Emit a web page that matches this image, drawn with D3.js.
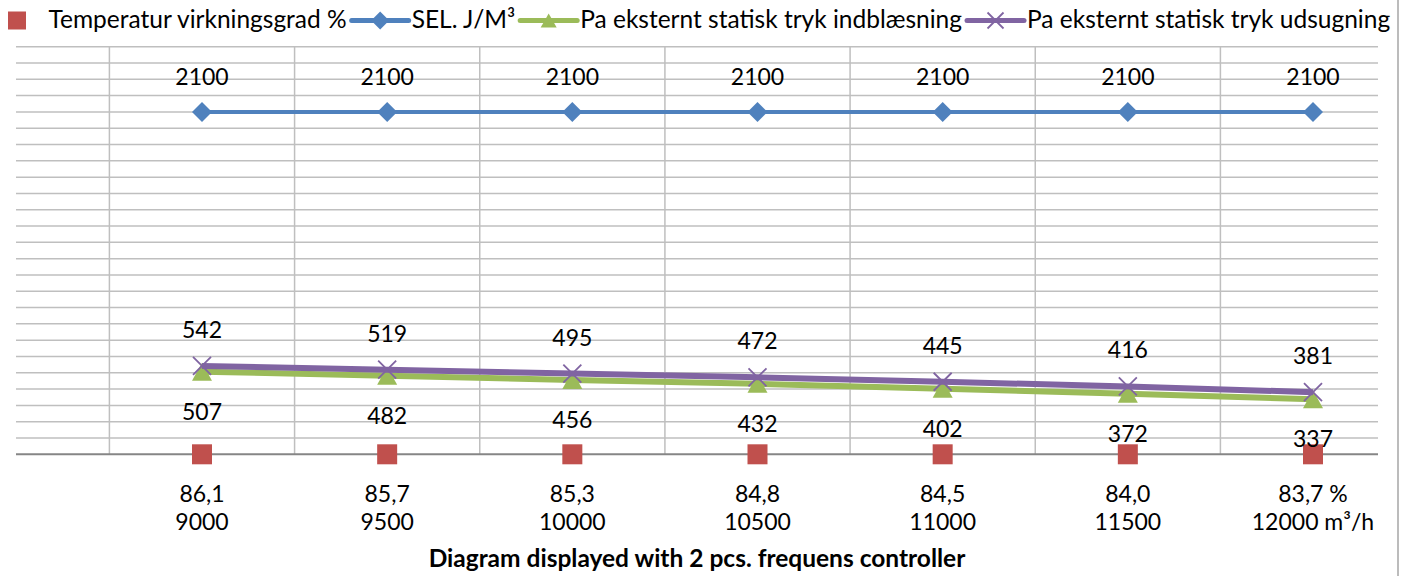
<!DOCTYPE html>
<html>
<head>
<meta charset="utf-8">
<script src="https://cdn.jsdelivr.net/npm/d3@7"></script>
<style>
  html, body { margin: 0; padding: 0; background: #fff; }
  svg { display: block; font-family: Lato, "Open Sans", sans-serif; }
</style>
</head>
<body>
<svg id="chart" width="1417" height="576"></svg>
<script>
// Airflow (m³/h) per operating point and the temperature efficiency (%) shown under it
const airflow = [9000, 9500, 10000, 10500, 11000, 11500, 12000];
const efficiency = ["86,1", "85,7", "85,3", "84,8", "84,5", "84,0", "83,7"];

// Series values
const sel = [2100, 2100, 2100, 2100, 2100, 2100, 2100];
const supplyPressure = [507, 482, 456, 432, 402, 372, 337];
const extractPressure = [542, 519, 495, 472, 445, 416, 381];

// Value axis
const yDomain = [0, 2500];
const yStep = 100;

const legendLabels = [
  "Temperatur virkningsgrad %",
  "SEL. J/M³",
  "Pa eksternt statisk tryk indblæsning",
  "Pa eksternt statisk tryk udsugning"
];
const xTitle = "Diagram displayed with 2 pcs. frequens controller";

const colors = {
  red: "#c0504d",
  blue: "#4f81bd",
  green: "#9bbb59",
  purple: "#8064a2",
  grid: "#bfbfbf",
  axis: "#868686",
  frame: "#a6a6a6"
};

const svg = d3.select("#chart");
const W = 1417, H = 576;
const plot = { left: 16, right: 1378, top: 46.7, bottom: 454.3 };

const y = d3.scaleLinear().domain(yDomain).range([plot.bottom, plot.top]);
const cats = airflow.map(String);
const x = d3.scalePoint().domain(cats).range([plot.left + 186, plot.right - 65]);
const step = x.step();

// chart frame edge on the right
svg.append("line")
  .attr("x1", 1398).attr("x2", 1398).attr("y1", 0).attr("y2", H)
  .attr("stroke", colors.frame).attr("stroke-width", 1.5);

// horizontal gridlines
const gridVals = d3.range(yDomain[0] + yStep, yDomain[1] + yStep / 2, yStep);
svg.append("g").selectAll("line").data(gridVals).join("line")
  .attr("x1", plot.left).attr("x2", plot.right)
  .attr("y1", d => y(d)).attr("y2", d => y(d))
  .attr("stroke", colors.grid).attr("stroke-width", 1.5);

// vertical gridlines between categories
svg.append("g").selectAll("line").data(cats).join("line")
  .attr("x1", d => x(d) - step / 2).attr("x2", d => x(d) - step / 2)
  .attr("y1", plot.top).attr("y2", plot.bottom)
  .attr("stroke", colors.grid).attr("stroke-width", 1.5);

// category axis line
svg.append("line")
  .attr("x1", plot.left).attr("x2", plot.right)
  .attr("y1", y(0)).attr("y2", y(0))
  .attr("stroke", colors.axis).attr("stroke-width", 2);

// category labels: efficiency on the first line, airflow on the second
const catLabels = svg.append("g").attr("font-size", 23).attr("fill", "#000").attr("text-anchor", "middle");
cats.forEach((c, i) => {
  const last = i === cats.length - 1;
  const t = catLabels.append("text").attr("x", x(c)).attr("y", 502);
  t.append("tspan").attr("x", x(c)).attr("dy", 0).text(efficiency[i] + (last ? " %" : ""));
  t.append("tspan").attr("x", x(c)).attr("dy", 28).text(c + (last ? " m³/h" : ""));
});

// axis title
svg.append("text")
  .attr("x", (plot.left + plot.right) / 2).attr("y", 567)
  .attr("text-anchor", "middle").attr("font-size", 24.5).attr("font-weight", "bold")
  .text(xTitle);

// marker shapes
const diamondPath = (hw, hh) => `M0,${-hh}L${hw},0L0,${hh}L${-hw},0Z`;
const trianglePath = (hw, hh) => `M0,${-hh}L${hw},${hh}L${-hw},${hh}Z`;
function cross(g, cx, cy, r, color) {
  g.append("path")
    .attr("d", `M${cx - r},${cy - r}L${cx + r},${cy + r}M${cx - r},${cy + r}L${cx + r},${cy - r}`)
    .attr("stroke", color).attr("stroke-width", 1.8).attr("fill", "none");
}

const line = d3.line().x((d, i) => x(cats[i])).y(d => y(d));

// SEL series
const gSel = svg.append("g");
gSel.append("path").datum(sel).attr("d", line)
  .attr("fill", "none").attr("stroke", colors.blue).attr("stroke-width", 4);
gSel.selectAll("path.m").data(sel).join("path").attr("class", "m")
  .attr("d", diamondPath(10, 10))
  .attr("transform", (d, i) => `translate(${x(cats[i])},${y(d)})`)
  .attr("fill", colors.blue);

// supply (indblæsning) series
const gSup = svg.append("g");
gSup.append("path").datum(supplyPressure).attr("d", line)
  .attr("fill", "none").attr("stroke", colors.green).attr("stroke-width", 6);
gSup.selectAll("path.m").data(supplyPressure).join("path").attr("class", "m")
  .attr("d", trianglePath(10, 9))
  .attr("transform", (d, i) => `translate(${x(cats[i])},${y(d)})`)
  .attr("fill", colors.green);

// extract (udsugning) series
const gExt = svg.append("g");
gExt.append("path").datum(extractPressure).attr("d", line)
  .attr("fill", "none").attr("stroke", colors.purple).attr("stroke-width", 6);
extractPressure.forEach((d, i) => cross(gExt, x(cats[i]), y(d), 9, colors.purple));

// efficiency series: its cells hold text, so the markers sit on the zero line
const gEff = svg.append("g");
gEff.selectAll("rect").data(efficiency).join("rect")
  .attr("x", (d, i) => x(cats[i]) - 10).attr("y", y(0) - 10)
  .attr("width", 20).attr("height", 20)
  .attr("fill", colors.red);

// data labels
const lbl = svg.append("g").attr("font-size", 23).attr("text-anchor", "middle").attr("fill", "#000");
sel.forEach((d, i) => lbl.append("text").attr("x", x(cats[i])).attr("y", y(d) - 27).text(d));
extractPressure.forEach((d, i) => lbl.append("text").attr("x", x(cats[i])).attr("y", y(d) - 28).text(d));
supplyPressure.forEach((d, i) => lbl.append("text").attr("x", x(cats[i])).attr("y", y(d) + 48).text(d));

// legend, laid out left to right
const legend = svg.append("g").attr("font-size", 24.5);
const legendY = 20.5;
const symW = 57;
let lx = -11.5;
const legendKinds = [
  { color: colors.red, line: false, marker: "square" },
  { color: colors.blue, line: true, marker: "diamond" },
  { color: colors.green, line: true, marker: "triangle" },
  { color: colors.purple, line: true, marker: "cross" }
];
legendKinds.forEach((k, i) => {
  const cx = lx + symW / 2;
  if (k.line) {
    legend.append("line").attr("x1", lx).attr("x2", lx + symW)
      .attr("y1", legendY).attr("y2", legendY)
      .attr("stroke", k.color).attr("stroke-width", 5).attr("stroke-linecap", "round");
  }
  if (k.marker === "square") {
    legend.append("rect").attr("x", cx - 9).attr("y", legendY - 9).attr("width", 18).attr("height", 18).attr("fill", k.color);
  } else if (k.marker === "diamond") {
    legend.append("path").attr("d", diamondPath(9, 9))
      .attr("transform", `translate(${cx},${legendY})`).attr("fill", k.color);
  } else if (k.marker === "triangle") {
    legend.append("path").attr("d", trianglePath(8, 7))
      .attr("transform", `translate(${cx},${legendY})`).attr("fill", k.color);
  } else {
    cross(legend, cx, legendY, 8, k.color);
  }
  const t = legend.append("text").attr("x", lx + symW + 3).attr("y", 28).text(legendLabels[i]);
  lx = lx + symW + 3 + t.node().getComputedTextLength() + 5;
});
</script>
</body>
</html>
